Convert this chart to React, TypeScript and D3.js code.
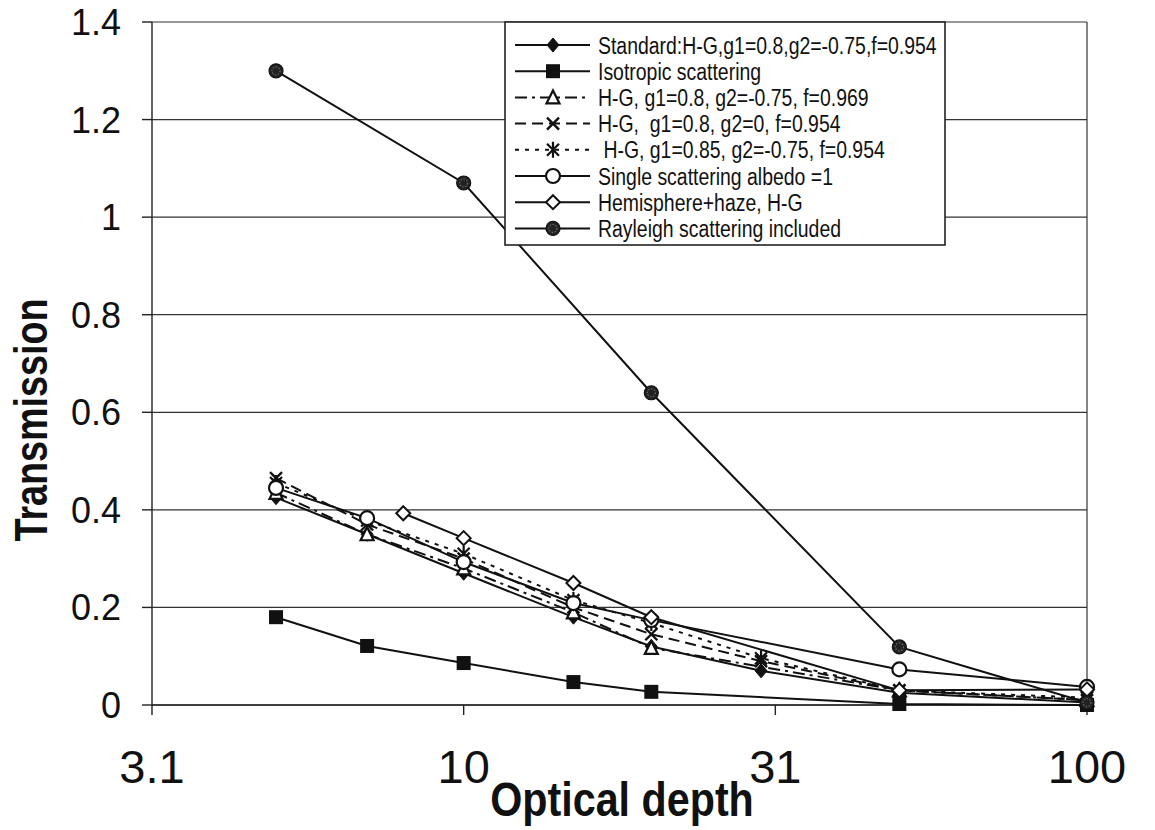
import React from "react";
import * as d3 from "d3";

// Optical depth values (log axis) and transmission for each model run
const depthStandard = [5, 7, 10, 15, 20, 30, 50, 100];
const transStandard = [0.425, 0.35, 0.27, 0.18, 0.12, 0.07, 0.025, 0.005];

const depthIsotropic = [5, 7, 10, 15, 20, 50, 100];
const transIsotropic = [0.18, 0.121, 0.086, 0.047, 0.027, 0.002, 0.0];

const depthHG969 = [5, 7, 10, 15, 20, 50, 100];
const transHG969 = [0.435, 0.35, 0.28, 0.19, 0.117, 0.03, 0.01];

const depthHGg2zero = [5, 7, 10, 15, 20, 30, 50, 100];
const transHGg2zero = [0.465, 0.37, 0.3, 0.2, 0.145, 0.09, 0.03, 0.01];

const depthHG085 = [5, 7, 10, 15, 20, 30, 50, 100];
const transHG085 = [0.455, 0.378, 0.31, 0.215, 0.168, 0.096, 0.03, 0.015];

const depthAlbedo1 = [5, 7, 10, 15, 20, 50, 100];
const transAlbedo1 = [0.445, 0.383, 0.293, 0.209, 0.174, 0.073, 0.037];

const depthHemisphere = [8, 10, 15, 20, 50, 100];
const transHemisphere = [0.393, 0.342, 0.25, 0.18, 0.03, 0.032];

const depthRayleigh = [5, 10, 20, 50, 100];
const transRayleigh = [1.3, 1.07, 0.64, 0.119, 0.005];

const seriesNames = [
  "Standard:H-G,g1=0.8,g2=-0.75,f=0.954",
  "Isotropic scattering",
  "H-G, g1=0.8, g2=-0.75, f=0.969",
  "H-G,  g1=0.8, g2=0, f=0.954",
  " H-G, g1=0.85, g2=-0.75, f=0.954",
  "Single scattering albedo =1",
  "Hemisphere+haze, H-G",
  "Rayleigh scattering included",
];

const yTicks = [0, 0.2, 0.4, 0.6, 0.8, 1, 1.2, 1.4];
const yTickLabels = ["0", "0.2", "0.4", "0.6", "0.8", "1", "1.2", "1.4"];
const xTicks = [Math.sqrt(10), 10, Math.sqrt(1000), 100];
const xTickLabels = ["3.1", "10", "31", "100"];

type Marker = "diamondFilled" | "square" | "triangle" | "cross" | "star" | "circle" | "diamondOpen" | "dotFilled";

interface Series {
  name: string;
  xs: number[];
  ys: number[];
  marker: Marker;
  dash: string | undefined;
}

const series: Series[] = [
  { name: seriesNames[0], xs: depthStandard, ys: transStandard, marker: "diamondFilled", dash: undefined },
  { name: seriesNames[1], xs: depthIsotropic, ys: transIsotropic, marker: "square", dash: undefined },
  { name: seriesNames[2], xs: depthHG969, ys: transHG969, marker: "triangle", dash: "12 5 3 5" },
  { name: seriesNames[3], xs: depthHGg2zero, ys: transHGg2zero, marker: "cross", dash: "11 6" },
  { name: seriesNames[4], xs: depthHG085, ys: transHG085, marker: "star", dash: "4 6" },
  { name: seriesNames[5], xs: depthAlbedo1, ys: transAlbedo1, marker: "circle", dash: undefined },
  { name: seriesNames[6], xs: depthHemisphere, ys: transHemisphere, marker: "diamondOpen", dash: undefined },
  { name: seriesNames[7], xs: depthRayleigh, ys: transRayleigh, marker: "dotFilled", dash: undefined },
];

const W = 1155;
const H = 830;
const left = 152;
const right = 1087;
const top = 22;
const bottom = 705;

const x = d3.scaleLog().domain([Math.sqrt(10), 100]).range([left, right]);
const y = d3.scaleLinear().domain([0, 1.4]).range([bottom, top]);

const sans = "'Liberation Sans', Arial, sans-serif";
const narrow = "'Liberation Sans Narrow', 'Arial Narrow', 'Liberation Sans', sans-serif";

function MarkerShape({ kind, cx, cy }: { kind: Marker; cx: number; cy: number }) {
  const ink = "#111";
  switch (kind) {
    case "diamondFilled":
      return <path d={`M${cx},${cy - 7}L${cx + 6},${cy}L${cx},${cy + 7}L${cx - 6},${cy}Z`} fill={ink} stroke={ink} strokeWidth={1} />;
    case "square":
      return <rect x={cx - 7} y={cy - 7} width={14} height={14} fill={ink} />;
    case "triangle":
      return <path d={`M${cx},${cy - 7}L${cx + 6.5},${cy + 6}L${cx - 6.5},${cy + 6}Z`} fill="#fff" stroke={ink} strokeWidth={2.2} />;
    case "cross":
      return (
        <path d={`M${cx - 6},${cy - 6}L${cx + 6},${cy + 6}M${cx - 6},${cy + 6}L${cx + 6},${cy - 6}`} stroke={ink} strokeWidth={2.4} fill="none" />
      );
    case "star":
      return (
        <path
          d={`M${cx - 6},${cy - 6}L${cx + 6},${cy + 6}M${cx - 6},${cy + 6}L${cx + 6},${cy - 6}M${cx},${cy - 8}L${cx},${cy + 8}`}
          stroke={ink}
          strokeWidth={2.2}
          fill="none"
        />
      );
    case "circle":
      return <circle cx={cx} cy={cy} r={7} fill="#fff" stroke={ink} strokeWidth={2.2} />;
    case "diamondOpen":
      return <path d={`M${cx},${cy - 7}L${cx + 7},${cy}L${cx},${cy + 7}L${cx - 7},${cy}Z`} fill="#fff" stroke={ink} strokeWidth={2} />;
    case "dotFilled":
      return (
        <g>
          <circle cx={cx} cy={cy} r={7} fill="#222" stroke="#111" strokeWidth={1.2} />
          <circle cx={cx} cy={cy} r={4} fill="none" stroke="#666" strokeWidth={1.2} strokeDasharray="1.5 1.5" />
        </g>
      );
  }
  return null;
}

export default function App() {
  const line = d3
    .line<[number, number]>()
    .x((d) => x(d[0]))
    .y((d) => y(d[1]));

  const legendX = 505;
  const legendY = 22;
  const legendW = 440;
  const legendH = 223;
  const rowStep = 26.2;

  return (
    <svg
      width={W}
      height={H}
      viewBox={`0 0 ${W} ${H}`}
      style={{ position: "absolute", left: 0, top: 0, background: "#fff" }}
      fontFamily={sans}
    >
      <rect x={0} y={0} width={W} height={H} fill="#fff" />

      {/* horizontal gridlines */}
      {yTicks.map((t) => (
        <line key={`g${t}`} x1={left} x2={right} y1={y(t)} y2={y(t)} stroke="#333" strokeWidth={1.2} />
      ))}
      {/* plot frame */}
      <line x1={right} x2={right} y1={top} y2={bottom} stroke="#333" strokeWidth={1.2} />

      {/* y axis */}
      <line x1={left} x2={left} y1={top} y2={bottom} stroke="#222" strokeWidth={1.4} />
      {yTicks.map((t, i) => (
        <g key={`yt${t}`}>
          <line x1={left - 10} x2={left} y1={y(t)} y2={y(t)} stroke="#222" strokeWidth={1.4} />
          <text x={121} y={y(t)} dy="0.36em" textAnchor="end" fontSize={36} fill="#111">
            {yTickLabels[i]}
          </text>
        </g>
      ))}

      {/* x axis */}
      <line x1={left} x2={right} y1={bottom} y2={bottom} stroke="#222" strokeWidth={1.4} />
      {xTicks.map((t, i) => (
        <g key={`xt${i}`}>
          <line x1={x(t)} x2={x(t)} y1={bottom} y2={bottom + 10} stroke="#222" strokeWidth={1.4} />
          <text x={x(t)} y={783} textAnchor="middle" fontSize={47} fill="#111" fontFamily={narrow}>
            {xTickLabels[i]}
          </text>
        </g>
      ))}

      {/* axis titles */}
      <text
        transform="translate(622,816) scale(0.86,1)"
        textAnchor="middle"
        fontSize={48}
        fontWeight="bold"
        fill="#111"
        fontFamily={narrow}
      >
        Optical depth
      </text>
      <text
        transform="translate(47,420) rotate(-90) scale(0.82,1)"
        textAnchor="middle"
        fontSize={46}
        fontWeight="bold"
        fill="#111"
        fontFamily={narrow}
      >
        Transmission
      </text>

      {/* series lines */}
      {series.map((s) => (
        <path
          key={`l${s.name}`}
          d={line(s.xs.map((v, i) => [v, s.ys[i]] as [number, number])) || ""}
          fill="none"
          stroke="#111"
          strokeWidth={2}
          strokeDasharray={s.dash}
        />
      ))}
      {/* series markers */}
      {series.map((s) => (
        <g key={`m${s.name}`}>
          {s.xs.map((v, i) => (
            <MarkerShape key={i} kind={s.marker} cx={x(v)} cy={y(s.ys[i])} />
          ))}
        </g>
      ))}

      {/* legend */}
      <rect x={legendX} y={legendY} width={legendW} height={legendH} fill="#fff" stroke="#222" strokeWidth={1.6} />
      {series.map((s, i) => {
        const cy = legendY + 23 + i * rowStep;
        return (
          <g key={`lg${s.name}`}>
            <line x1={515} x2={590} y1={cy} y2={cy} stroke="#111" strokeWidth={2} strokeDasharray={s.dash} />
            <MarkerShape kind={s.marker} cx={553} cy={cy} />
            <text transform={`translate(598,${cy}) scale(0.81,1)`} dy="0.36em" fontSize={24} fill="#111" xmlSpace="preserve">
              {s.name}
            </text>
          </g>
        );
      })}
    </svg>
  );
}
